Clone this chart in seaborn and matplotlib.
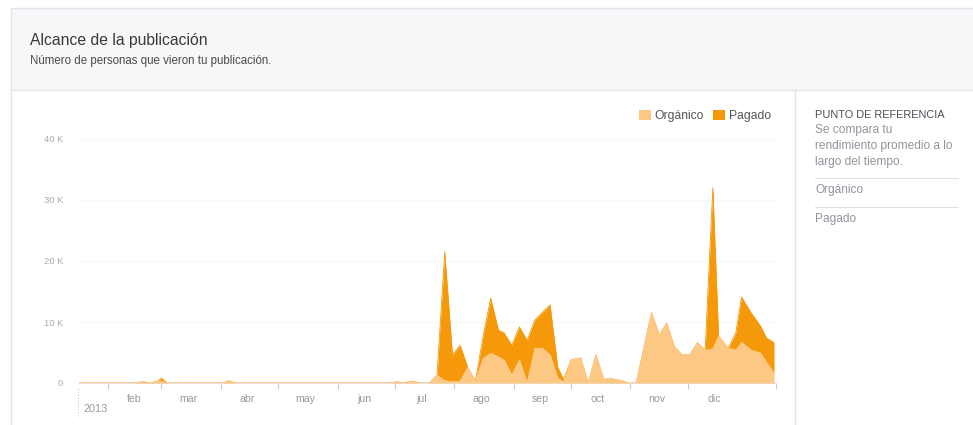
import seaborn as sns
import matplotlib.pyplot as plt
import pandas as pd
from matplotlib.patches import Rectangle, Patch
from matplotlib.lines import Line2D
from matplotlib.ticker import FixedLocator, FuncFormatter

# breakpoints (values in thousands of people)
fechas = ['2013-01-17', '2013-02-15', '2013-02-20', '2013-02-23', '2013-02-27', '2013-03-01',
          '2013-03-04', '2013-04-02', '2013-04-05', '2013-04-09', '2013-06-29', '2013-07-02',
          '2013-07-05', '2013-07-10', '2013-07-14', '2013-07-19', '2013-07-23', '2013-07-27',
          '2013-07-31', '2013-08-04', '2013-08-08', '2013-08-12', '2013-08-16', '2013-08-20',
          '2013-08-24', '2013-08-27', '2013-08-31', '2013-09-04', '2013-09-08', '2013-09-12',
          '2013-09-16', '2013-09-20', '2013-09-24', '2013-09-27', '2013-10-01', '2013-10-06',
          '2013-10-10', '2013-10-14', '2013-10-18', '2013-10-22', '2013-10-27', '2013-10-31',
          '2013-11-04', '2013-11-12', '2013-11-16', '2013-11-20', '2013-11-24', '2013-11-28',
          '2013-12-02', '2013-12-06', '2013-12-10', '2013-12-14', '2013-12-17', '2013-12-22',
          '2013-12-26', '2013-12-29', '2014-01-03', '2014-01-08', '2014-01-11', '2014-01-15']
organico = [0, 0, 0.2, 0, 0.3, 0.3,
            0, 0, 0.35, 0, 0, 0.2,
            0, 0.3, 0, 0, 1.3, 0.4,
            0.2, 0.3, 2.6, 0.2, 4.0, 4.9,
            4.3, 3.8, 1.3, 3.8, 0, 5.7,
            5.7, 4.6, 0.8, 0.2, 3.8, 4.1,
            0, 4.6, 0.6, 0.7, 0.4, 0,
            0, 11.5, 7.9, 9.8, 5.9, 4.6,
            4.6, 6.6, 5.4, 5.6, 7.7, 5.7,
            5.4, 6.7, 5.4, 4.9, 3.4, 1.6]
pagado = [0, 0, 0, 0, 0, 0.5,
          0, 0, 0, 0, 0, 0,
          0, 0, 0, 0, 0, 21.1,
          4.4, 5.9, 0, 0.1, 3.6, 9.0,
          4.4, 4.4, 4.9, 5.4, 7.0, 4.6,
          5.9, 8.2, 1.8, 0.4, 0, 0,
          0, 0, 0, 0, 0, 0,
          0, 0, 0, 0, 0, 0,
          0, 0, 0, 26.4, 0, 0,
          2.8, 7.4, 6.1, 4.4, 4.0, 5.0]
meses = ['feb', 'mar', 'abr', 'may', 'jun', 'jul', 'ago', 'sep', 'oct', 'nov', 'dic']
yticks = [0, 10, 20, 30, 40]

col_org = '#fdc784'
col_pag = '#f5990a'

df = pd.DataFrame({'fecha': pd.to_datetime(fechas), 'organico': organico, 'pagado': pagado})
df['total'] = df['organico'] + df['pagado']

sns.set_style('white')
plt.rcParams['font.family'] = ['Liberation Sans', 'DejaVu Sans']

W, H = 973, 425
fig = plt.figure(figsize=(W / 100, H / 100), dpi=100)

# header panel and borders
fig.patches.append(Rectangle((11 / W, 1 - 90 / H), 1, 82 / H, transform=fig.transFigure,
                             facecolor='#f6f7f9', edgecolor='#e3e4e8', lw=1, zorder=0))
fig.add_artist(Line2D([11 / W, 11 / W], [0, 1 - 90 / H], color='#e3e4e8', lw=1))
fig.add_artist(Line2D([795 / W, 795 / W], [0, 1 - 90 / H], color='#e3e4e8', lw=1))

fig.text(30 / W, 1 - 41 / H, 'Alcance de la publicación', fontsize=11.3, color='#3a3a3a', va='center')
fig.text(30 / W, 1 - 61 / H, 'Número de personas que vieron tu publicación.', fontsize=8.3,
         color='#4a4a4a', va='center')

ax = fig.add_axes([79 / W, 1 - 383 / H, 697 / W, 244 / H])

ax.fill_between(df['fecha'], 0, df['organico'], color=col_org, lw=0, zorder=3)
ax.fill_between(df['fecha'], df['organico'], df['total'], color=col_pag, lw=0, zorder=2)
sns.lineplot(data=df, x='fecha', y='total', ax=ax, color=col_pag, lw=0.6, zorder=2)
sns.lineplot(data=df, x='fecha', y='organico', ax=ax, color=col_org, lw=0.6, zorder=3)

ax.set_xlim(pd.Timestamp('2013-01-17'), pd.Timestamp('2014-01-16'))
ax.set_ylim(0, 40)
ax.set_xlabel('')
ax.set_ylabel('')

ax.yaxis.set_major_locator(FixedLocator(yticks))
ax.yaxis.set_major_formatter(FuncFormatter(lambda v, p: '0' if v == 0 else f'{int(v)} K'))
ax.grid(axis='y', color='#f9f9f9', lw=0.8, zorder=0)
ax.tick_params(axis='y', length=0, pad=11.5, labelsize=6.8, labelcolor='#aaaaaa')

ticks = pd.date_range('2013-02-01', '2013-12-01', freq='MS')
ax.set_xticks(list(ticks) + [pd.Timestamp('2014-01-16')])
ax.set_xticklabels([])
ax.set_xticks(pd.to_datetime([f'2013-{m:02d}-15' for m in range(2, 13)]), minor=True)
ax.set_xticklabels(meses, minor=True)
ax.tick_params(axis='x', which='major', length=4, width=0.8, color='#cccccc', direction='out', bottom=True)
ax.tick_params(axis='x', which='minor', length=0, pad=8, labelsize=7.6, labelcolor='#999999')

for s in ['top', 'right', 'left']:
    ax.spines[s].set_visible(False)
ax.spines['bottom'].set_color('#e2e2e2')
ax.spines['bottom'].set_linewidth(0.8)

# year marker
fig.add_artist(Line2D([78 / W, 78 / W], [1 - 416 / H, 1 - 388 / H], color='#cccccc', lw=0.8, ls=':'))
fig.text(83 / W, 1 - 409 / H, '2013', fontsize=7.8, color='#999999', va='center')

handles = [Patch(facecolor=col_org, edgecolor='none', label='Orgánico'),
           Patch(facecolor=col_pag, edgecolor='none', label='Pagado')]
ax.legend(handles=handles, loc='upper right', bbox_to_anchor=(1.0, 1.14), ncol=2, frameon=False,
          fontsize=8.7, handlelength=1.0, handleheight=1.0, handletextpad=0.3, columnspacing=0.8,
          borderaxespad=0, labelcolor='#555555')

# right side panel
fig.text(815 / W, 1 - 115 / H, 'PUNTO DE REFERENCIA', fontsize=7.9, color='#4b4f56', va='center')
for txt, y in [('Se compara tu', 130), ('rendimiento promedio a lo', 146), ('largo del tiempo.', 162),
               ('Orgánico', 190), ('Pagado', 219)]:
    fig.text(815 / W, 1 - y / H, txt, fontsize=8.6, color='#90949c', va='center')
for y in [178, 207]:
    fig.add_artist(Line2D([815 / W, 958 / W], [1 - y / H, 1 - y / H], color='#dddfe2', lw=0.8))

fig.savefig('out.png', dpi=100)
